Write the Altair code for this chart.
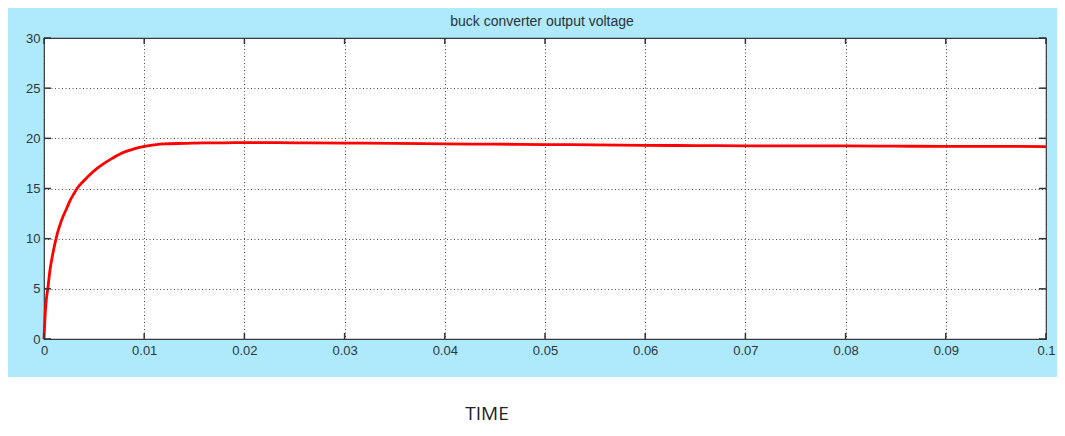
import altair as alt
import pandas as pd

# Data
time_s = [0, 0.0001, 0.0002, 0.0004, 0.0006, 0.0009, 0.0013, 0.0016, 0.0019, 0.0023,
          0.0026, 0.003, 0.0033, 0.004, 0.0046, 0.0053, 0.006, 0.0068, 0.0075, 0.0082,
          0.009, 0.0095, 0.01, 0.011, 0.012, 0.014, 0.016, 0.018, 0.02, 0.025,
          0.03, 0.035, 0.04, 0.045, 0.05, 0.055, 0.06, 0.065, 0.07, 0.075,
          0.08, 0.085, 0.09, 0.095, 0.1]
voltage = [0, 2.2, 3.6, 5.2, 6.9, 8.6, 10.4, 11.4, 12.2, 13.1,
           13.8, 14.5, 15.0, 15.8, 16.4, 17.0, 17.5, 18.0, 18.4, 18.7,
           18.95, 19.1, 19.2, 19.35, 19.45, 19.5, 19.55, 19.55, 19.58, 19.55,
           19.52, 19.5, 19.45, 19.42, 19.38, 19.35, 19.3, 19.28, 19.25, 19.25,
           19.24, 19.22, 19.2, 19.2, 19.18]
x_ticks = [0, 0.01, 0.02, 0.03, 0.04, 0.05, 0.06, 0.07, 0.08, 0.09, 0.1]
y_ticks = [0, 5, 10, 15, 20, 25, 30]
title_text = "buck converter output voltage"
xlabel_text = "TIME"

W, H = 1002, 301
BLUE = "#AEEAFB"
AX = "#2c363b"

df = pd.DataFrame({"t": time_s, "v": voltage})
xt = pd.DataFrame({"t": x_ticks})
yt = pd.DataFrame({"v": y_ticks})

xscale = alt.Scale(domain=[0, 0.1], nice=False, zero=False)
yscale = alt.Scale(domain=[0, 30], nice=False)

base = alt.Chart(df)

# white strip below the blue panel
white_strip = base.mark_rect(color="white").encode(
    x=alt.value(-40), x2=alt.value(W + 40),
    y=alt.value(339), y2=alt.value(400)
)

line = base.mark_line(color="#ff0000", strokeWidth=2.8, interpolate="monotone").encode(
    x=alt.X("t:Q", scale=xscale,
            axis=alt.Axis(values=x_ticks, labelExpr="format(datum.value, '.2~f')",
                          title=None, grid=True, gridDash=[1, 2.5], gridColor="#3a3a3a",
                          gridOpacity=0.9, tickSize=0, domain=False,
                          labelFontSize=13, labelFont="Liberation Sans", labelColor=AX,
                          labelPadding=5, labelFlush=False)),
    y=alt.Y("v:Q", scale=yscale,
            axis=alt.Axis(values=y_ticks, title=None, grid=True, gridDash=[1, 2.5],
                          gridColor="#3a3a3a", gridOpacity=0.9, tickSize=0, domain=False,
                          labelFontSize=13, labelFont="Liberation Sans", labelColor=AX,
                          labelPadding=4, labelFlush=False))
)

tick_style = dict(color=AX, strokeWidth=1.5)
xt_bottom = alt.Chart(xt).mark_rule(**tick_style).encode(
    x=alt.X("t:Q", scale=xscale), y=alt.value(H), y2=alt.value(H - 6))
xt_top = alt.Chart(xt).mark_rule(**tick_style).encode(
    x=alt.X("t:Q", scale=xscale), y=alt.value(0), y2=alt.value(6))
yt_left = alt.Chart(yt).mark_rule(**tick_style).encode(
    y=alt.Y("v:Q", scale=yscale), x=alt.value(0), x2=alt.value(7))
yt_right = alt.Chart(yt).mark_rule(**tick_style).encode(
    y=alt.Y("v:Q", scale=yscale), x=alt.value(W), x2=alt.value(W - 7))

title = alt.Chart(pd.DataFrame({"s": [title_text]})).mark_text(
    font="Liberation Sans", fontSize=14, color="#2a3338", align="center", baseline="alphabetic"
).encode(text="s:N", x=alt.value(W / 2 - 3), y=alt.value(-12))

xlabel = alt.Chart(pd.DataFrame({"s": [xlabel_text]})).mark_text(
    font="Open Sans", fontSize=19, color="#222", align="center", baseline="alphabetic"
).encode(text="s:N", x=alt.value(443), y=alt.value(382))

chart = alt.layer(white_strip, line, xt_bottom, xt_top, yt_left, yt_right, title, xlabel).properties(
    width=W, height=H,
    autosize=alt.AutoSizeParams(type="none"),
    padding={"left": 36, "top": 30, "right": 11, "bottom": 89},
    background=BLUE,
).configure_view(fill="white", stroke="#3a3a3a", strokeWidth=1.2)

chart.save("out.html", embed_options={"renderer": "svg", "actions": False})
